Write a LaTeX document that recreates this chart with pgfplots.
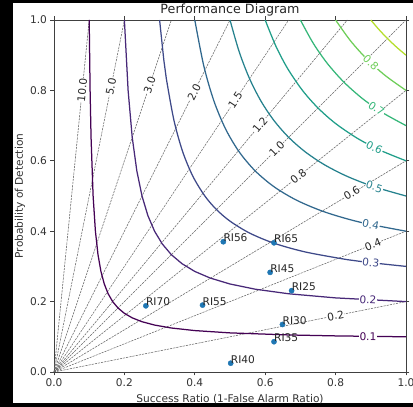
\documentclass[border=0pt]{standalone}
\usepackage{pgfplots}
\pgfplotsset{compat=1.18}
\usepackage{fontspec}
\setmainfont{DejaVu Sans}
\definecolor{c1}{HTML}{440154}
\definecolor{c2}{HTML}{482878}
\definecolor{c3}{HTML}{3E4989}
\definecolor{c4}{HTML}{31688E}
\definecolor{c5}{HTML}{26828E}
\definecolor{c6}{HTML}{1F9E89}
\definecolor{c7}{HTML}{35B779}
\definecolor{c8}{HTML}{6ECE58}
\definecolor{c9}{HTML}{B5DE2B}
\definecolor{tabblue}{HTML}{1F77B4}
\newcommand{\lf}{\fontsize{10.6}{12}\selectfont}
\tikzset{
  bias/.style={black!60, line width=0.55pt, dash pattern=on 2.2pt off 1pt},
  csi/.style={line width=1.25pt},
  blab/.style={fill=white, inner sep=0.5pt, font=\lf, text=black!85},
  clab/.style={fill=white, inner sep=0.5pt, font=\lf},
}
\begin{document}
\begin{tikzpicture}
\useasboundingbox (0pt,0pt) rectangle (413pt,407pt);
\fill[black] (0pt,0pt) rectangle (413pt,407pt);
\fill[white] (12.5pt,4pt) rectangle (413pt,404pt);
\clip (0pt,0pt) rectangle (413pt,407pt);
\node[font=\fontsize{12.7}{14}\selectfont, text=black!85] at (230pt,396.5pt) {Performance Diagram};
\begin{axis}[at={(54pt,35pt)}, anchor=south west, width=352pt, height=352pt, scale only axis,
  xmin=0, xmax=1, ymin=0, ymax=1,
  xtick={0,0.2,0.4,0.6,0.8,1.0}, ytick={0,0.2,0.4,0.6,0.8,1.0},
  tick align=outside, major tick length=3.5pt,
  tick style={black!75, line width=0.6pt},
  axis line style={black!75, line width=0.6pt},
  ticklabel style={font=\lf, text=black!80},
  /pgf/number format/.cd, fixed, fixed zerofill, precision=1, assume math mode=true, /pgfplots/.cd,
  xlabel={Success Ratio (1-False Alarm Ratio)},
  ylabel={Probability of Detection},
  label style={font=\lf, text=black!80},
  xlabel style={at={(axis description cs:0.5,-0.078)}, anchor=center},
  ylabel style={at={(axis description cs:-0.097,0.5)}, anchor=center},
]
% bias lines
\addplot[bias] coordinates {(0,0) (0.1,1)};
\addplot[bias] coordinates {(0,0) (0.2,1)};
\addplot[bias] coordinates {(0,0) (0.33333,1)};
\addplot[bias] coordinates {(0,0) (0.5,1)};
\addplot[bias] coordinates {(0,0) (0.66667,1)};
\addplot[bias] coordinates {(0,0) (0.83333,1)};
\addplot[bias] coordinates {(0,0) (1,1)};
\addplot[bias] coordinates {(0,0) (1,0.8)};
\addplot[bias] coordinates {(0,0) (1,0.6)};
\addplot[bias] coordinates {(0,0) (1,0.4)};
\addplot[bias] coordinates {(0,0) (1,0.2)};
% CSI contours
\addplot[csi, c1] coordinates {(1,0.1) (0.8,0.10256) (0.66667,0.10526) (0.5,0.11111) (0.4,0.11765) (0.33333,0.125) (0.28571,0.13333) (0.25,0.14286) (0.22222,0.15385) (0.2,0.16667) (0.18182,0.18182) (0.16667,0.2) (0.15385,0.22222) (0.14286,0.25) (0.13333,0.28571) (0.125,0.33333) (0.11765,0.4) (0.11111,0.5) (0.10526,0.66667) (0.10256,0.8) (0.1,1)};
\addplot[csi, c2] coordinates {(1,0.2) (0.8,0.21053) (0.66667,0.22222) (0.57143,0.23529) (0.5,0.25) (0.44444,0.26667) (0.4,0.28571) (0.36364,0.30769) (0.33333,0.33333) (0.30769,0.36364) (0.28571,0.4) (0.26667,0.44444) (0.25,0.5) (0.23529,0.57143) (0.22222,0.66667) (0.21053,0.8) (0.2,1)};
\addplot[csi, c3, smooth] coordinates {(1,0.3) (0.88235,0.3125) (0.83333,0.31915) (0.71429,0.34091) (0.625,0.36585) (0.55556,0.39474) (0.5,0.42857) (0.46154,0.46154) (0.42857,0.5) (0.39474,0.55556) (0.36585,0.625) (0.34091,0.71429) (0.31915,0.83333) (0.3125,0.88235) (0.3,1)};
\addplot[csi, c4, smooth] coordinates {(1,0.4) (0.86957,0.42553) (0.76923,0.45455) (0.68966,0.48780) (0.625,0.52632) (0.57143,0.57143) (0.52632,0.625) (0.48780,0.68966) (0.45455,0.76923) (0.42553,0.86957) (0.4,1)};
\addplot[csi, c5, smooth] coordinates {(1,0.5) (0.90909,0.52632) (0.83333,0.55556) (0.76923,0.58824) (0.71429,0.625) (0.66667,0.66667) (0.625,0.71429) (0.58824,0.76923) (0.55556,0.83333) (0.52632,0.90909) (0.5,1)};
\addplot[csi, c6, smooth] coordinates {(1,0.6) (0.92593,0.63025) (0.86207,0.66372) (0.8,0.70588) (0.75,0.75) (0.70588,0.8) (0.66372,0.86207) (0.63025,0.92593) (0.6,1)};
\addplot[csi, c7, smooth] coordinates {(1,0.7) (0.93458,0.73607) (0.87719,0.77606) (0.82353,0.82353) (0.77606,0.87719) (0.73607,0.93458) (0.7,1)};
\addplot[csi, c8, smooth] coordinates {(1,0.8) (0.94118,0.84211) (0.88889,0.88889) (0.84211,0.94118) (0.8,1)};
\addplot[csi, c9, smooth] coordinates {(1,0.9) (0.97297,0.92308) (0.94737,0.94737) (0.92308,0.97297) (0.9,1)};
% bias labels
\node[blab, rotate=84.3] at (axis cs:0.0801,0.801) {10.0};
\node[blab, rotate=78.7] at (axis cs:0.162,0.81) {5.0};
\node[blab, rotate=71.6] at (axis cs:0.2718,0.815) {3.0};
\node[blab, rotate=63.4] at (axis cs:0.398,0.795) {2.0};
\node[blab, rotate=56.3] at (axis cs:0.515,0.773) {1.5};
\node[blab, rotate=50.2] at (axis cs:0.585,0.702) {1.2};
\node[blab, rotate=45] at (axis cs:0.633,0.633) {1.0};
\node[blab, rotate=38.7] at (axis cs:0.694,0.555) {0.8};
\node[blab, rotate=31] at (axis cs:0.846,0.508) {0.6};
\node[blab, rotate=21.8] at (axis cs:0.906,0.362) {0.4};
\node[blab, rotate=11.3] at (axis cs:0.80,0.16) {0.2};
% CSI labels
\node[clab, text=c1, rotate=-0.7] at (axis cs:0.892,0.1012) {0.1};
\node[clab, text=c2, rotate=-3] at (axis cs:0.892,0.205) {0.2};
\node[clab, text=c3, rotate=-6.8] at (axis cs:0.90,0.310) {0.3};
\node[clab, text=c4, rotate=-12.2] at (axis cs:0.90,0.4186) {0.4};
\node[clab, text=c5, rotate=-18.5] at (axis cs:0.91,0.526) {0.5};
\node[clab, text=c6, rotate=-26] at (axis cs:0.91,0.638) {0.6};
\node[clab, text=c7, rotate=-33.7] at (axis cs:0.916,0.748) {0.7};
\node[clab, text=c8, rotate=-43.6] at (axis cs:0.90,0.878) {0.8};
% data points
\addplot[only marks, mark=*, mark size=2.6pt, color=tabblue,
  point meta=explicit symbolic, nodes near coords,
  nodes near coords style={anchor=base west, inner sep=0pt, text=black!85, font=\lf}]
  table[meta=label] {
x y label
0.481 0.370 RI56
0.625 0.367 RI65
0.614 0.283 RI45
0.675 0.231 RI25
0.261 0.188 RI70
0.422 0.190 RI55
0.649 0.135 RI30
0.625 0.086 RI35
0.502 0.025 RI40
};
\end{axis}
\end{tikzpicture}
\end{document}
